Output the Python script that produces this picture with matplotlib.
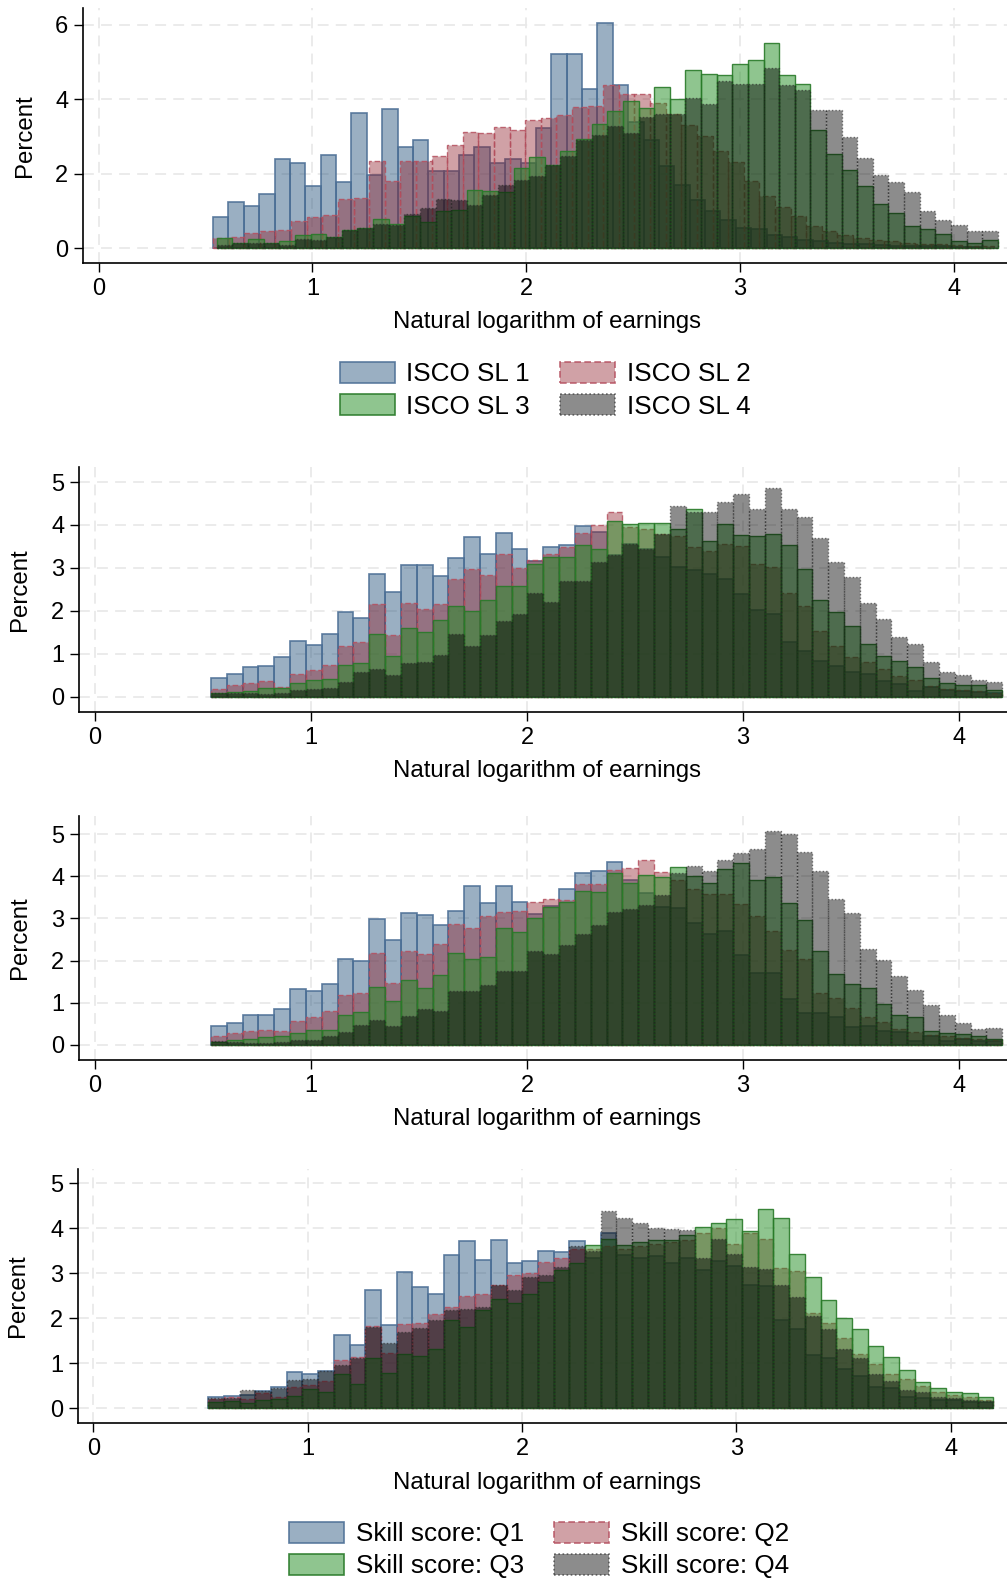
import numpy as np
import matplotlib
matplotlib.use("Agg")
from matplotlib import pyplot as plt
from matplotlib.patches import Patch

plt.rcParams['font.family'] = ['Liberation Sans', 'DejaVu Sans']

# ---- panel 1 : ISCO skill levels (percent per bin, 50 bins each) ----
p1_sl1 = [0.83, 1.24, 1.13, 1.46, 2.39, 2.29, 1.67, 2.49, 1.78, 3.63,
          1.97, 3.74, 2.72, 2.91, 2.07, 2.07, 2.50, 2.72, 2.29, 2.40,
          2.29, 3.23, 5.22, 5.22, 4.28, 6.05, 4.37, 3.40, 2.90, 2.20,
          1.70, 1.30, 1.00, 0.75, 0.55, 0.50, 0.35, 0.30, 0.22, 0.18,
          0.15, 0.12, 0.10, 0.08, 0.07, 0.06, 0.05, 0.05, 0.04, 0.04]
p1_sl2 = [0.27, 0.31, 0.40, 0.46, 0.49, 0.74, 0.83, 0.90, 1.32, 1.34,
          2.35, 1.79, 2.33, 2.33, 2.48, 2.77, 3.11, 3.09, 3.25, 3.18,
          3.45, 3.49, 3.58, 3.79, 3.83, 4.37, 4.13, 4.14, 3.90, 3.60,
          3.30, 3.00, 2.60, 2.30, 1.80, 1.40, 1.10, 0.85, 0.60, 0.45,
          0.35, 0.28, 0.22, 0.18, 0.14, 0.12, 0.10, 0.08, 0.07, 0.06]
p1_sl3 = [0.27, 0.13, 0.24, 0.15, 0.20, 0.35, 0.37, 0.30, 0.48, 0.54,
          0.78, 0.64, 0.85, 0.71, 1.00, 1.03, 1.57, 1.53, 1.52, 2.15,
          2.44, 2.24, 2.62, 2.93, 3.34, 3.68, 3.96, 3.77, 4.32, 4.01,
          4.78, 4.68, 4.66, 4.95, 5.04, 5.52, 4.65, 4.42, 3.17, 2.54,
          2.09, 1.66, 1.19, 0.94, 0.60, 0.51, 0.38, 0.20, 0.13, 0.22]
p1_sl4 = [0.09, 0.13, 0.13, 0.15, 0.09, 0.24, 0.22, 0.29, 0.48, 0.54,
          0.65, 0.63, 0.92, 1.08, 1.33, 1.30, 1.17, 1.43, 1.70, 1.84,
          1.93, 2.22, 2.47, 2.91, 3.05, 3.29, 3.08, 3.52, 3.61, 3.59,
          4.02, 3.88, 4.48, 4.42, 4.42, 4.84, 4.39, 4.26, 3.72, 3.72,
          2.98, 2.42, 1.97, 1.78, 1.50, 1.00, 0.76, 0.63, 0.47, 0.47]
# earnings range covered by each group's histogram (lo, hi)
p1_ranges = [(0.535, 4.130), (0.535, 4.185), (0.553, 4.205), (0.553, 4.205)]

# ---- panel 2 ----
p2_a = [0.43, 0.52, 0.68, 0.71, 0.93, 1.29, 1.19, 1.46, 1.97, 1.82,
        2.86, 2.44, 3.07, 3.07, 2.80, 3.23, 3.71, 3.32, 3.81, 3.44,
        3.15, 3.49, 3.53, 3.98, 3.84, 3.31, 3.56, 3.44, 3.25, 3.02,
        2.96, 2.86, 2.74, 2.39, 2.02, 1.92, 1.28, 1.07, 0.82, 0.71,
        0.57, 0.52, 0.37, 0.30, 0.12, 0.23, 0.15, 0.12, 0.10, 0.08]
p2_b = [0.17, 0.28, 0.32, 0.37, 0.23, 0.53, 0.62, 0.74, 1.18, 1.28,
        2.16, 1.44, 2.18, 2.05, 2.15, 2.74, 2.98, 2.83, 3.32, 2.99,
        3.19, 3.32, 3.48, 3.82, 4.00, 4.30, 3.95, 3.90, 3.80, 3.74,
        3.49, 3.40, 3.56, 3.50, 3.09, 3.03, 2.41, 2.12, 1.52, 1.18,
        0.92, 0.80, 0.65, 0.48, 0.39, 0.25, 0.17, 0.16, 0.14, 0.08]
p2_c = [0.09, 0.11, 0.13, 0.19, 0.21, 0.31, 0.38, 0.40, 0.73, 0.79,
        1.46, 0.95, 1.60, 1.50, 1.78, 2.12, 2.00, 2.25, 2.57, 2.57,
        3.10, 3.26, 3.26, 3.54, 3.44, 4.10, 4.02, 4.05, 4.05, 3.91,
        4.36, 3.62, 4.01, 3.77, 3.74, 3.79, 3.54, 2.97, 2.26, 1.97,
        1.65, 1.23, 0.95, 0.82, 0.70, 0.43, 0.31, 0.27, 0.26, 0.16]
p2_d = [0.08, 0.08, 0.09, 0.05, 0.09, 0.16, 0.18, 0.21, 0.34, 0.58,
        0.65, 0.51, 0.79, 0.81, 0.97, 1.46, 1.18, 1.44, 1.77, 1.93,
        2.42, 2.21, 2.70, 2.70, 3.14, 3.31, 3.56, 3.44, 3.80, 4.45,
        4.30, 4.31, 4.54, 4.73, 4.38, 4.87, 4.38, 4.19, 3.70, 3.14,
        2.79, 2.18, 1.81, 1.39, 1.22, 0.80, 0.58, 0.50, 0.39, 0.33]

# ---- panel 3 ----
p3_a = [0.45, 0.51, 0.70, 0.70, 0.85, 1.33, 1.28, 1.44, 2.04, 1.99,
        2.98, 2.49, 3.13, 3.09, 2.85, 3.18, 3.77, 3.36, 3.77, 3.39,
        3.10, 3.30, 3.69, 4.07, 4.12, 4.33, 3.90, 3.60, 3.27, 3.24,
        2.89, 2.63, 2.71, 2.14, 1.70, 1.70, 1.09, 0.75, 0.75, 0.66,
        0.42, 0.45, 0.33, 0.30, 0.09, 0.20, 0.10, 0.13, 0.10, 0.08]
p3_b = [0.20, 0.29, 0.33, 0.36, 0.32, 0.57, 0.66, 0.81, 1.19, 1.24,
        2.19, 1.46, 2.23, 2.15, 2.39, 2.86, 2.78, 3.05, 3.15, 3.18,
        3.39, 3.47, 3.43, 3.82, 3.81, 4.15, 4.19, 4.38, 4.11, 3.90,
        3.70, 3.58, 3.58, 3.34, 3.06, 2.69, 2.25, 2.04, 1.23, 1.11,
        0.87, 0.66, 0.54, 0.37, 0.30, 0.24, 0.20, 0.16, 0.15, 0.12]
p3_c = [0.06, 0.11, 0.15, 0.18, 0.21, 0.29, 0.36, 0.36, 0.71, 0.78,
        1.37, 1.04, 1.53, 1.36, 1.66, 2.19, 2.04, 2.08, 2.77, 2.67,
        3.01, 3.28, 3.40, 3.66, 3.63, 4.07, 3.84, 4.03, 3.98, 4.21,
        4.01, 3.84, 4.17, 4.31, 3.92, 3.98, 3.36, 2.96, 2.23, 1.69,
        1.45, 1.34, 0.97, 0.71, 0.66, 0.34, 0.29, 0.25, 0.22, 0.14]
p3_d = [0.08, 0.06, 0.04, 0.05, 0.06, 0.12, 0.12, 0.20, 0.31, 0.48,
        0.59, 0.45, 0.69, 0.85, 0.81, 1.28, 1.28, 1.42, 1.76, 1.76,
        2.23, 2.16, 2.37, 2.63, 2.85, 3.16, 3.23, 3.32, 3.56, 4.07,
        4.25, 4.13, 4.39, 4.56, 4.65, 5.08, 5.01, 4.57, 4.13, 3.47,
        3.13, 2.27, 2.02, 1.64, 1.31, 0.95, 0.71, 0.51, 0.37, 0.41]

# ---- panel 4 : skill score quartiles ----
p4_q1 = [0.25, 0.28, 0.30, 0.38, 0.47, 0.80, 0.77, 0.83, 1.62, 1.40,
         2.63, 1.85, 3.02, 2.70, 2.54, 3.40, 3.72, 3.29, 3.74, 3.24,
         3.27, 3.49, 3.47, 3.72, 3.34, 3.89, 3.41, 3.33, 3.38, 3.22,
         3.33, 3.07, 3.27, 3.16, 2.73, 2.72, 1.97, 1.77, 1.19, 1.11,
         0.88, 0.71, 0.46, 0.44, 0.24, 0.22, 0.18, 0.19, 0.14, 0.13]
p4_q2 = [0.21, 0.24, 0.21, 0.34, 0.25, 0.47, 0.51, 0.60, 1.07, 1.13,
         1.82, 1.23, 1.88, 1.90, 2.09, 2.25, 2.50, 2.55, 2.74, 2.96,
         3.00, 3.26, 3.35, 3.54, 3.54, 3.60, 3.55, 3.60, 3.65, 3.70,
         3.75, 3.89, 4.00, 3.66, 3.89, 3.76, 3.11, 3.06, 2.12, 1.90,
         1.57, 1.20, 0.98, 0.77, 0.64, 0.49, 0.35, 0.29, 0.25, 0.18]
p4_q3 = [0.13, 0.16, 0.12, 0.18, 0.21, 0.27, 0.42, 0.36, 0.77, 0.53,
         1.11, 0.78, 1.20, 1.17, 1.31, 1.97, 1.81, 2.18, 2.43, 2.35,
         2.55, 2.80, 3.07, 3.23, 3.63, 3.76, 3.64, 3.69, 3.74, 3.74,
         3.85, 4.04, 4.12, 4.20, 3.95, 4.44, 4.24, 3.44, 2.91, 2.40,
         2.00, 1.75, 1.39, 1.14, 0.85, 0.59, 0.44, 0.35, 0.33, 0.25]
p4_q4 = [0.22, 0.23, 0.40, 0.38, 0.44, 0.62, 0.65, 0.82, 0.96, 1.12,
         1.81, 1.44, 1.69, 1.78, 1.96, 2.18, 2.20, 2.25, 2.73, 2.63,
         2.92, 2.96, 3.15, 3.61, 3.50, 4.38, 4.22, 4.12, 4.00, 3.98,
         3.96, 3.35, 3.76, 3.43, 3.13, 3.09, 2.74, 2.47, 2.05, 1.76,
         1.31, 1.12, 0.75, 0.60, 0.40, 0.36, 0.25, 0.22, 0.18, 0.15]

labels_isco = ["ISCO SL 1", "ISCO SL 2", "ISCO SL 3", "ISCO SL 4"]
labels_skill = ["Skill score: Q1", "Skill score: Q2", "Skill score: Q3", "Skill score: Q4"]

# bar styles : blue, pink, green, grey (stata-like transparent fills)
styles = [
    dict(color=(0.12, 0.31, 0.47, 0.45), edgecolor=(0.30, 0.44, 0.59, 0.9), linestyle='-', linewidth=1.2),
    dict(color=(0.56, 0.12, 0.17, 0.42), edgecolor=(0.71, 0.31, 0.37, 0.85), linestyle=(0, (4, 2)), linewidth=1.0),
    dict(color=(0.13, 0.55, 0.13, 0.50), edgecolor=(0.16, 0.48, 0.16, 0.9), linestyle='-', linewidth=1.0),
    dict(color=(0.0, 0.0, 0.0, 0.45), edgecolor=(0.15, 0.15, 0.15, 0.6), linestyle=(0, (1, 1.5)), linewidth=1.0),
]

W, H = 1007, 1580
fig = plt.figure(figsize=(W / 100, H / 100), dpi=100)
fig.patch.set_facecolor('white')


def add_axes_px(left, top, right, bottom):
    return fig.add_axes([left / W, 1 - bottom / H, (right - left) / W, (bottom - top) / H])


def draw_panel(ax, series, ranges, xlim, ylim, yticks, lab_px):
    for vals, (lo, hi), st in zip(series, ranges, styles):
        edges = np.linspace(lo, hi, len(vals) + 1)
        ax.bar(edges[:-1], vals, width=np.diff(edges), align='edge', **st)
    ax.set_xlim(*xlim)
    ax.set_ylim(*ylim)
    ax.set_xticks([0, 1, 2, 3, 4])
    ax.set_yticks(yticks)
    ax.grid(True, color='#e9e9e9', linestyle=(0, (6, 4)), linewidth=1.3)
    ax.set_axisbelow(True)
    for s in ['top', 'right']:
        ax.spines[s].set_visible(False)
    for s in ['left', 'bottom']:
        ax.spines[s].set_linewidth(1.2)
    ax.tick_params(direction='out', length=6.5, width=1.0, labelsize=17, pad=4)
    ax.set_ylabel("Percent", fontsize=17.3)
    ax.set_xlabel("Natural logarithm of earnings", fontsize=17.3)
    # label positions in figure pixels
    bb = ax.get_position()
    ax.yaxis.set_label_coords((lab_px[0] / W - bb.x0) / bb.width, 0.5)
    ax.xaxis.set_label_coords((547 / W - bb.x0) / bb.width, (1 - lab_px[1] / H - bb.y0) / bb.height)
    ax.xaxis.label.set_va('center')


ax1 = add_axes_px(83, 8, 1007, 263)
draw_panel(ax1, [p1_sl1, p1_sl2, p1_sl3, p1_sl4], p1_ranges,
           (-0.073, 4.248), (-0.40, 6.45), [0, 2, 4, 6], (36, 322))

common = [(0.537, 4.200)] * 4
ax2 = add_axes_px(79, 467, 1007, 712)
draw_panel(ax2, [p2_a, p2_b, p2_c, p2_d], common,
           (-0.074, 4.222), (-0.36, 5.35), [0, 1, 2, 3, 4, 5], (31, 771))

ax3 = add_axes_px(79, 816, 1007, 1060)
draw_panel(ax3, [p3_a, p3_b, p3_c, p3_d], common,
           (-0.074, 4.222), (-0.36, 5.43), [0, 1, 2, 3, 4, 5], (31, 1119))

ax4 = add_axes_px(78, 1169, 1007, 1423)
draw_panel(ax4, [p4_q1, p4_q2, p4_q3, p4_q4], [(0.536, 4.199)] * 4,
           (-0.072, 4.263), (-0.33, 5.32), [0, 1, 2, 3, 4, 5], (29, 1483))


def legend_handles():
    return [Patch(facecolor=st['color'], edgecolor=st['edgecolor'],
                  linestyle=st['linestyle'], linewidth=1.2) for st in styles]


h = legend_handles()
order = [0, 2, 1, 3]  # matplotlib fills columns first
leg_kw = dict(ncol=2, loc='center', frameon=False, fontsize=18.8,
              handlelength=2.1, handleheight=0.9, handletextpad=0.45,
              columnspacing=1.15, labelspacing=0.28, borderpad=0)
fig.legend([h[i] for i in order], [labels_isco[i] for i in order],
           bbox_to_anchor=(545 / W, 1 - 390 / H), **leg_kw)
fig.legend([h[i] for i in order], [labels_skill[i] for i in order],
           bbox_to_anchor=(539 / W, 1 - 1550 / H), **leg_kw)

fig.savefig("out.png", dpi=100, facecolor='white')
